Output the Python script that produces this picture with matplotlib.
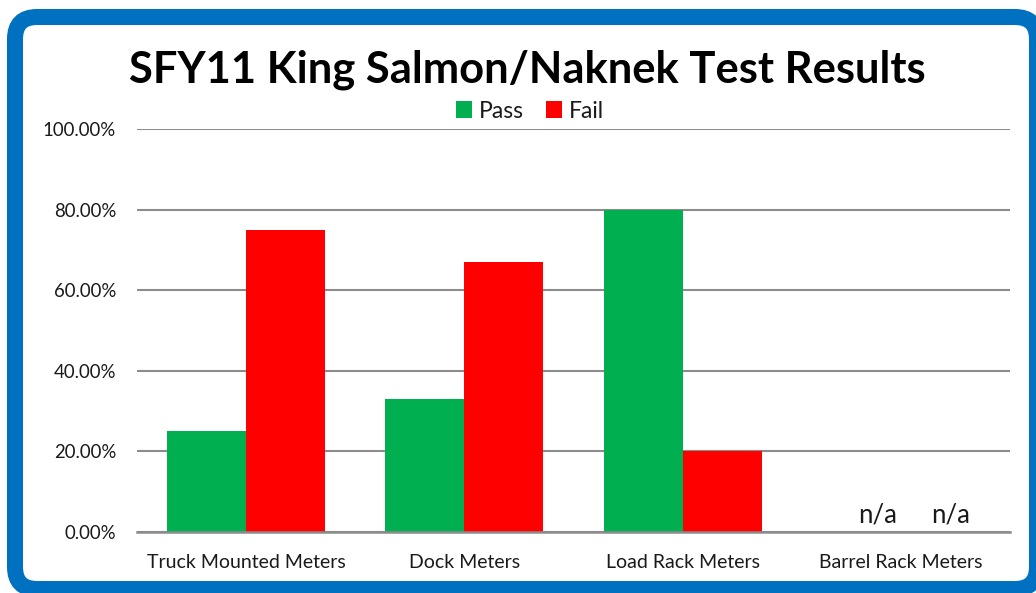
import matplotlib
matplotlib.use("Agg")
import matplotlib.pyplot as plt
from matplotlib.patches import FancyBboxPatch
import numpy as np

categories = ["Truck Mounted Meters", "Dock Meters", "Load Rack Meters", "Barrel Rack Meters"]
pass_vals = [0.25, 0.33, 0.80, 0.0]
fail_vals = [0.75, 0.67, 0.20, 0.0]
na_labels = [None, None, None, "n/a"]
y_ticks = [0.0, 0.2, 0.4, 0.6, 0.8, 1.0]
title = "SFY11 King Salmon/Naknek Test Results"

GREEN = "#00B050"
RED = "#FF0000"
BLUE = "#0070C0"
GRID = "#8C8C8C"
TXT = "#1A1A1A"
FONT = ["Lato", "DejaVu Sans"]

fig = plt.figure(figsize=(10.36, 5.93), dpi=100)
fig.patch.set_facecolor("white")

# rounded blue frame (display pixel coords)
frame = FancyBboxPatch((15, 4), 1037 - 15, 576 - 4,
                       boxstyle="round,pad=0,rounding_size=22",
                       transform=None, facecolor="white", edgecolor=BLUE,
                       linewidth=16 * 72 / 100, zorder=-10)
fig.patches.append(frame)

ax = fig.add_axes([137 / 1036, 61 / 593, (1010 - 137) / 1036, (464 - 61) / 593])
ax.set_zorder(5)
ax.set_facecolor("none")
x = np.arange(len(categories))
w = 0.362
ax.bar(x - w / 2, pass_vals, w, color=GREEN, label="Pass", zorder=3)
ax.bar(x + w / 2, fail_vals, w, color=RED, label="Fail", zorder=3)

for i, lab in enumerate(na_labels):
    if lab:
        ax.text(x[i] - w / 2 + 0.075, 0.010, lab, ha="center", va="bottom",
                fontsize=18.5, family=FONT, color=TXT)
        ax.text(x[i] + w / 2 + 0.045, 0.010, lab, ha="center", va="bottom",
                fontsize=18.5, family=FONT, color=TXT)

ax.set_xlim(-0.5, len(categories) - 0.5)
ax.set_ylim(0, 1.0)
ax.set_yticks(y_ticks)
ax.set_yticklabels([f"{v*100:.2f}%" for v in y_ticks], family=FONT, fontsize=13.4, color=TXT)
ax.set_xticks(x)
ax.set_xticklabels(categories, family=FONT, fontsize=14, color=TXT)
ax.tick_params(axis="y", length=0, pad=15)
ax.tick_params(axis="x", length=0, pad=16)
ax.grid(axis="y", color=GRID, linewidth=1.5, zorder=0)
for s in ["top", "right", "left"]:
    ax.spines[s].set_visible(False)
ax.spines["bottom"].set_color(GRID)
ax.spines["bottom"].set_linewidth(1.8)
ax.spines["bottom"].set_zorder(4)

fig.text(527 / 1036, 1 - 70 / 593, title, ha="center", va="center",
         fontsize=31.3, fontweight="bold", family=FONT, color="black", zorder=5)

leg = fig.legend(loc="center", bbox_to_anchor=(530 / 1036, 1 - 111 / 593), ncol=2,
                 frameon=False, prop={"family": FONT, "size": 16.5},
                 handlelength=0.7, handleheight=0.7, handletextpad=0.3,
                 columnspacing=1.0)
for t in leg.get_texts():
    t.set_color(TXT)
leg.set_zorder(5)

fig.savefig("out.png", dpi=100)
